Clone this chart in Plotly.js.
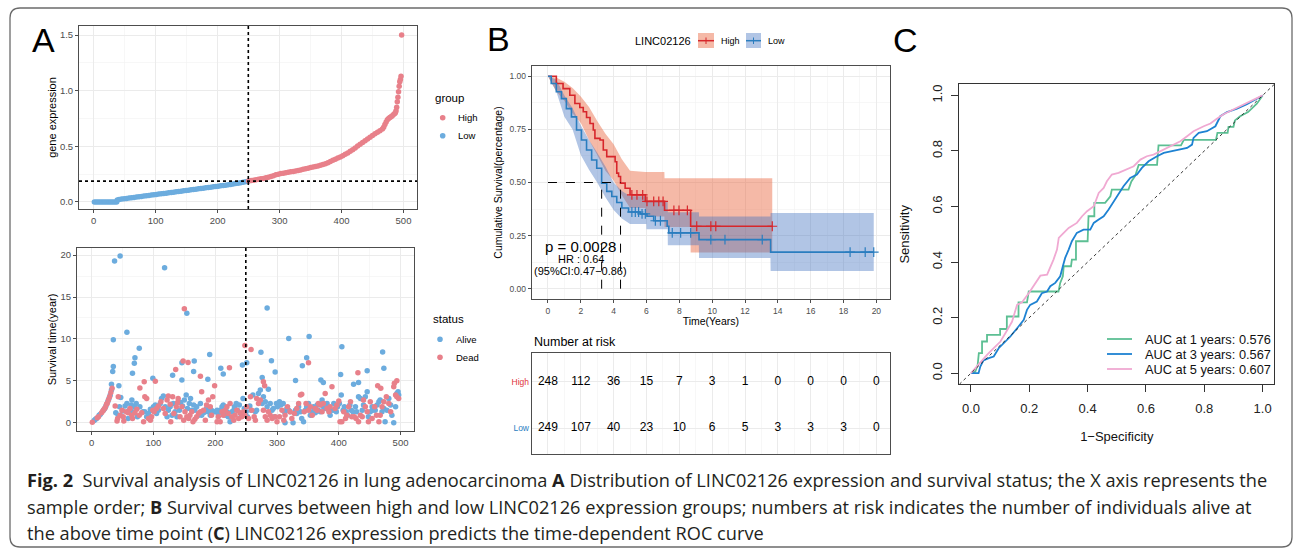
<!DOCTYPE html>
<html><head><meta charset="utf-8">
<script src="https://cdn.plot.ly/plotly-3.0.1.min.js"></script>
<style>html,body{margin:0;padding:0;background:#fff}</style>
</head><body><div id="chart" style="width:1295px;height:550px"></div>
<script>
// ---------------- DATA ----------------
// Panel A (top): gene expression by sample order
const lowIdx = [1,4,7,10,13,16,19,22,25,28,31,34,37,38,41,45,49,53,57,61,65,69,73,77,81,85,89,93,97,101,105,109,113,117,121,125,129,133,137,141,145,149,153,157,161,165,169,173,177,181,185,189,193,197,201,205,209,213,217,221,225,229,233,237,241,245,249];
const lowVal = [0,0,0,0,0,0,0,0,0,0,0,0,0,0.018,0.022,0.026,0.029,0.032,0.035,0.038,0.041,0.044,0.047,0.050,0.053,0.056,0.059,0.062,0.065,0.068,0.071,0.073,0.076,0.079,0.082,0.085,0.088,0.091,0.094,0.097,0.100,0.103,0.106,0.109,0.112,0.115,0.118,0.121,0.124,0.127,0.130,0.133,0.136,0.139,0.142,0.145,0.148,0.151,0.154,0.157,0.161,0.165,0.169,0.173,0.177,0.181,0.186];
const highIdx = [250,254,258,262,266,270,274,278,282,286,290,294,298,302,306,310,314,318,322,326,330,334,338,342,346,350,354,358,362,366,370,374,378,382,386,390,394,398,402,406,410,414,418,422,426,430,434,438,442,446,450,454,458,462,466,468,470,472,474,476,478,480,482,484,486,487,488,489,490,491,492,493,494,495,496,497];
const highVal = [0.188,0.192,0.196,0.200,0.204,0.208,0.212,0.217,0.222,0.228,0.236,0.244,0.250,0.255,0.259,0.263,0.267,0.271,0.275,0.279,0.283,0.288,0.293,0.298,0.304,0.310,0.314,0.318,0.323,0.329,0.336,0.344,0.353,0.363,0.374,0.385,0.395,0.405,0.416,0.428,0.441,0.455,0.470,0.486,0.502,0.518,0.534,0.550,0.566,0.582,0.597,0.612,0.626,0.640,0.656,0.672,0.695,0.718,0.738,0.750,0.758,0.766,0.775,0.785,0.795,0.805,0.820,0.850,0.900,0.940,0.990,1.040,1.080,1.100,1.130,1.500];
const cutIdx = 249.5;
const cutExpr = 0.187;

// Panel A (bottom): survival time by sample order
const aliveIdx = [4,6,8,12,14,19,21,23,26,28,30,32,
 37,46,118,35,35,34,32,57,77,70,69,66,44,47,99,154,166,146,191,165,146,131,188,209,213,244,251,284,274,291,297,276,319,352,348,341,330,371,375,405,403,446,471,473,424,432,
 39,43,45,50,54,57,59,61,64,65,66,
 69,72,74,78,83,86,89,92,95,97,100,
 103,105,108,111,113,116,119,122,124,127,130,132,
 135,138,142,144,147,150,153,155,158,160,162,165,
 167,170,173,176,178,181,184,186,189,192,194,197,
 200,203,205,208,211,213,216,219,221,224,227,230,
 231,234,236,239,241,245,247,250,252,256,258,261,
 265,267,270,273,276,278,281,284,286,289,292,294,
 296,299,301,304,306,310,312,313,316,319,321,326,
 330,332,335,338,340,343,346,348,351,354,357,359,
 362,365,367,370,373,375,378,381,384,386,389,392,
 393,396,398,401,404,407,409,412,414,418,420,423,
 427,429,432,435,438,440,443,446,448,451,454,455,
 459,462,465,467,470,473,475,478,481,484,486,489,492,494,496,497];
const aliveTime = [0.25,0.4,0.5,0.9,1.0,1.5,1.7,2.0,2.5,2.9,3.3,3.9,
 19.3,19.9,18.5,9.9,6.7,6.1,4.6,10.8,8.9,7.75,7.1,5.9,4.4,3.0,5.3,13.05,7.35,7.15,8.15,6.1,5.1,5.65,5.2,6.5,5.8,6.9,7.15,13.7,8.4,7.4,6.05,5.4,10.05,10.3,7.75,6.8,5.05,5.1,4.8,9.05,5.75,6.2,8.45,6.5,4.6,4.8,
 1.2,0.9,1.9,1.4,2.0,2.3,0.5,1.5,2.1,2.7,1.3,
 1.9,2.3,0.7,1.9,1.3,1.3,0.7,1.1,1.6,1.5,1.9,
 2.1,1.1,1.5,2.3,2.9,3.2,1.9,0.7,1.5,1.9,0.9,2.3,
 1.3,0.7,1.5,2.4,2.0,2.7,3.3,1.7,2.3,2.9,1.5,2.1,
 1.5,1.9,0.9,2.3,0.9,1.2,1.3,1.7,1.3,0.9,1.5,1.3,
 1.3,1.5,1.1,1.5,1.9,2.1,0.9,1.3,0.7,0.1,1.3,1.5,
 1.9,2.3,1.5,2.1,1.1,2.9,1.7,1.3,0.7,2.0,1.5,3.3,
 1.3,1.5,3.5,3.9,2.3,3.1,2.5,1.9,4.0,2.3,1.5,1.7,
 0.7,2.3,1.9,2.5,2.1,2.3,1.3,0.0,1.7,1.5,1.3,0.0,
 1.5,1.1,1.9,1.3,0.5,0.1,1.5,1.9,2.3,0.9,1.3,1.9,
 1.2,2.1,1.5,1.3,2.7,1.9,1.7,2.3,1.5,0.9,1.5,2.3,
 1.5,1.3,1.9,2.3,3.3,1.5,1.9,1.3,0.9,2.1,1.5,1.3,
 1.9,1.3,3.1,2.9,1.5,2.1,3.1,3.7,0.7,1.3,1.9,1.5,
 1.5,2.1,2.5,2.7,1.3,1.7,0.1,1.5,2.9,2.1,0.9,0.0,1.9,3.5,3.7,3.3];
const deadIdx = [1,9,11,16,18,20,22,24,25,27,29,31,33,
 150,148,156,136,223,248,258,278,280,351,431,78,85,103,199,176,463,468,494,490,
 38,41,42,43,46,49,51,52,56,59,62,65,66,
 70,73,77,81,84,86,89,92,95,97,99,
 101,105,108,112,116,119,122,124,127,128,131,
 133,137,139,140,143,146,149,151,154,157,159,162,164,
 167,170,173,176,178,181,184,186,189,192,194,196,
 203,205,208,211,213,216,219,221,224,227,230,
 232,235,238,240,243,246,248,251,254,257,259,
 263,265,267,270,273,278,281,284,286,289,292,
 297,300,304,308,311,313,317,321,324,
 328,332,335,338,340,344,347,351,354,357,
 362,365,367,370,373,375,378,381,384,386,389,
 394,397,400,402,405,408,411,413,416,419,421,
 425,428,432,435,438,440,443,446,448,451,454,
 458,461,465,467,470,473,477,481,484,489,492,494,497];
const deadTime = [0.05,0.6,0.7,1.2,1.4,1.6,1.8,2.2,2.3,2.7,3.1,3.6,4.1,
 13.6,7.35,7.2,6.35,6.55,9.2,8.75,4.9,4.4,7.15,5.95,4.15,4.9,4.95,4.4,5.55,4.4,4.1,5.0,4.7,
 2.0,0.2,0.5,3.1,0.9,1.5,0.7,0.2,1.3,1.2,1.7,0.9,0.5,
 1.2,1.6,0.9,1.2,0.1,3.1,2.9,0.5,0.3,0.7,1.5,
 1.3,1.7,2.0,2.5,1.7,1.1,2.7,3.2,2.2,0.1,3.1,
 1.1,1.9,2.4,2.9,0.7,1.9,0.3,1.3,0.7,0.5,0.9,1.3,0.1,
 0.4,0.7,1.1,1.3,3.7,1.5,0.3,2.1,2.7,1.9,0.9,3.1,
 0.1,0.7,0.1,1.3,0.9,1.5,1.9,1.1,2.3,0.7,0.3,
 0.9,1.5,0.5,1.2,0.7,1.3,0.9,1.9,0.5,3.1,1.5,
 0.7,0.3,2.9,2.3,2.7,1.5,0.7,0.3,1.3,0.9,0.5,
 0.7,0.1,0.7,1.5,0.3,0.9,1.9,1.3,0.5,
 1.1,1.7,2.3,3.3,3.4,1.3,2.3,1.5,1.9,0.9,
 1.7,1.5,2.3,2.1,1.3,2.3,3.5,1.7,1.3,1.9,4.3,
 1.7,2.1,2.6,0.1,0.1,1.3,0.5,0.9,1.9,2.5,0.7,
 0.7,0.5,0.1,0.9,0.7,2.7,1.9,1.3,0.1,2.5,0.5,
 1.9,0.9,0.1,0.9,1.9,2.5,3.1,2.3,1.3,4.3,3.3,3.1,2.9];

// Panel B: Kaplan-Meier
const highT = [0,0.51,0.92,1.33,1.64,1.94,2.15,2.35,2.56,2.76,2.86,3.17,3.37,3.58,4.09,4.19,4.30,4.42,4.70,5.00,5.93,7.10,8.69,13.66];
const highS = [1,0.966,0.942,0.911,0.872,0.853,0.833,0.806,0.778,0.747,0.708,0.700,0.653,0.622,0.598,0.544,0.528,0.497,0.473,0.442,0.411,0.369,0.294,0.294];
const lowT = [0,0.20,0.51,0.82,1.12,1.43,1.74,2.04,2.35,2.66,2.97,3.27,3.58,3.89,4.19,4.50,4.91,5.62,6.03,6.44,7.26,7.36,9.20,13.56,19.84];
const lowS = [1,0.966,0.927,0.895,0.848,0.809,0.747,0.700,0.653,0.606,0.567,0.497,0.458,0.434,0.406,0.380,0.361,0.352,0.341,0.320,0.294,0.263,0.231,0.172,0.172];
const highCiT = [0,0.5,1,1.5,2,2.5,3,3.5,4,4.5,5,5.92,5.93,7.09,7.10,8.68,8.69,13.66];
const highCiU = [1,0.995,0.975,0.945,0.905,0.855,0.79,0.73,0.68,0.61,0.555,0.55,0.55,0.55,0.52,0.52,0.52,0.52];
const highCiL = [1,0.93,0.885,0.825,0.78,0.70,0.63,0.555,0.51,0.44,0.38,0.38,0.34,0.34,0.29,0.29,0.17,0.17];
const lowCiT = [0,0.5,1,1.5,2,2.5,3,3.5,4,4.5,5,5.99,6.0,7.29,7.3,9.19,9.2,13.55,13.56,19.84];
const lowCiU = [1,0.985,0.91,0.85,0.77,0.70,0.64,0.575,0.50,0.46,0.435,0.435,0.41,0.41,0.36,0.36,0.34,0.34,0.356,0.356];
const lowCiL = [1,0.93,0.81,0.75,0.63,0.56,0.50,0.43,0.37,0.33,0.305,0.305,0.28,0.28,0.205,0.205,0.145,0.145,0.083,0.083];
const highCensT = [5.11,5.42,5.77,6.03,6.44,6.75,7.01,7.67,7.98,8.49,9.06,9.92,10.22,13.66];
const highCensS = [0.442,0.442,0.442,0.411,0.411,0.411,0.411,0.369,0.369,0.369,0.294,0.294,0.294,0.294];
const lowCensT = [5.11,5.32,5.52,5.73,5.93,6.54,6.85,7.57,8.08,8.69,9.92,10.78,13.05,18.40,19.32,19.84];
const lowCensS = [0.361,0.361,0.361,0.352,0.352,0.320,0.320,0.263,0.263,0.263,0.231,0.231,0.231,0.172,0.172,0.172];
const medians = [3.27, 4.42];
const riskT = [0,2,4,6,8,10,12,14,16,18,20];
const riskHigh = [248,112,36,15,7,3,1,0,0,0,0];
const riskLow = [249,107,40,23,10,6,5,3,3,3,0];
const pText = ['p = 0.0028','HR : 0.64','(95%CI:0.47\u22120.86)'];

// Panel C: time-dependent ROC
const roc1X = [0,0.015,0.023,0.027,0.038,0.038,0.055,0.055,0.10,0.10,0.123,0.123,0.163,0.163,0.192,0.198,0.30,0.306,0.315,0.318,0.343,0.346,0.36,0.36,0.40,0.403,0.423,0.423,0.46,0.478,0.483,0.54,0.55,0.563,0.575,0.638,0.643,0.72,0.73,0.84,0.845,0.88,0.883,0.90,0.905,0.923,0.95,0.98,1];
const roc1Y = [0,0.006,0.03,0.072,0.072,0.114,0.114,0.138,0.138,0.159,0.159,0.204,0.204,0.255,0.255,0.294,0.294,0.325,0.349,0.385,0.385,0.409,0.409,0.475,0.475,0.565,0.565,0.613,0.613,0.637,0.661,0.661,0.69,0.71,0.75,0.75,0.82,0.82,0.84,0.84,0.865,0.865,0.887,0.887,0.91,0.925,0.94,0.97,1];
const roc3X = [0,0.007,0.026,0.032,0.043,0.061,0.078,0.095,0.118,0.135,0.163,0.181,0.192,0.203,0.226,0.243,0.261,0.272,0.289,0.306,0.315,0.323,0.335,0.346,0.363,0.386,0.409,0.421,0.438,0.455,0.472,0.483,0.501,0.523,0.546,0.569,0.586,0.609,0.638,0.661,0.689,0.718,0.741,0.758,0.763,0.781,0.809,0.838,0.855,0.878,0.912,0.946,1];
const roc3Y = [0,0,0,0.024,0.046,0.054,0.060,0.090,0.114,0.132,0.168,0.192,0.228,0.246,0.258,0.288,0.294,0.313,0.325,0.349,0.385,0.415,0.445,0.475,0.505,0.517,0.517,0.541,0.553,0.565,0.589,0.607,0.637,0.673,0.703,0.715,0.739,0.763,0.781,0.793,0.799,0.805,0.811,0.823,0.847,0.865,0.871,0.889,0.925,0.940,0.952,0.968,1];
const roc5X = [0,0.015,0.032,0.055,0.078,0.101,0.118,0.141,0.158,0.175,0.198,0.209,0.226,0.238,0.261,0.272,0.283,0.295,0.301,0.318,0.335,0.363,0.381,0.398,0.421,0.438,0.455,0.466,0.483,0.506,0.535,0.558,0.581,0.603,0.626,0.649,0.672,0.718,0.741,0.763,0.798,0.821,0.843,0.866,0.901,1];
const roc5Y = [0,0.018,0.042,0.066,0.090,0.114,0.144,0.186,0.246,0.255,0.288,0.306,0.331,0.351,0.355,0.379,0.409,0.445,0.487,0.505,0.523,0.541,0.565,0.583,0.601,0.649,0.667,0.691,0.715,0.721,0.733,0.745,0.769,0.781,0.787,0.799,0.811,0.835,0.853,0.871,0.889,0.899,0.916,0.932,0.950,1];
const rocLabels = ['AUC at 1 years: 0.576','AUC at 3 years: 0.567','AUC at 5 years: 0.607'];
const diagLine = [-0.04, 1.04];

// ---------------- STYLE / LAYOUT ----------------
const W = 1295, H = 550;
const X = p => p / W, Y = p => 1 - p / H;
const FONT = 'Liberation Sans, Arial, Helvetica, sans-serif';
const PINK = '#E8808A', BLUE = '#6CACDE';
const RED_L = '#D7262B', BLUE_L = '#2A7DBF';
const RED_F = 'rgba(232,100,60,0.45)', BLUE_F = 'rgba(60,110,190,0.40)';
const GREEN_R = '#5CBF93', BLUE_R = '#1E82D2', PINK_R = '#F0A9D2';

function gg(o) {
  return Object.assign({
    showline: true, mirror: true, linecolor: '#4D4D4D', linewidth: 1,
    ticks: 'outside', ticklen: 3, tickwidth: 1, tickcolor: '#4D4D4D',
    showgrid: true, gridcolor: '#EBEBEB', gridwidth: 1, zeroline: false,
    tickfont: {size: 9.5, color: '#4D4D4D', family: FONT}, fixedrange: true
  }, o);
}
function rb(o) {
  return Object.assign({
    showline: true, mirror: true, linecolor: '#333', linewidth: 1,
    ticks: 'outside', ticklen: 7, tickwidth: 1, tickcolor: '#333',
    showgrid: false, zeroline: false, dtick: 0.2, tick0: 0, tickformat: '.1f',
    tickfont: {size: 13, color: '#222', family: FONT}, fixedrange: true,
    range: [-0.04, 1.04]
  }, o);
}
const minorG = (d) => ({dtick: d, showgrid: true, gridcolor: '#F1F1F1', gridwidth: 0.6, ticks: ''});

const traces = [
  {type:'scatter', mode:'markers', x: lowIdx, y: lowVal, xaxis:'x', yaxis:'y', name:'Low', marker:{color: BLUE, size:5.5}},
  {type:'scatter', mode:'markers', x: highIdx, y: highVal, xaxis:'x', yaxis:'y', name:'High', marker:{color: PINK, size:5.5}},
  {type:'scatter', mode:'markers', x: aliveIdx, y: aliveTime, xaxis:'x2', yaxis:'y2', name:'Alive', marker:{color: BLUE, size:5.5}},
  {type:'scatter', mode:'markers', x: deadIdx, y: deadTime, xaxis:'x2', yaxis:'y2', name:'Dead', marker:{color: PINK, size:5.5}},
  {type:'scatter', mode:'lines', x: highCiT, y: highCiL, xaxis:'x3', yaxis:'y3', line:{width:0}, hoverinfo:'skip'},
  {type:'scatter', mode:'lines', x: highCiT, y: highCiU, xaxis:'x3', yaxis:'y3', line:{width:0}, fill:'tonexty', fillcolor: RED_F, hoverinfo:'skip'},
  {type:'scatter', mode:'lines', x: lowCiT, y: lowCiL, xaxis:'x3', yaxis:'y3', line:{width:0}, hoverinfo:'skip'},
  {type:'scatter', mode:'lines', x: lowCiT, y: lowCiU, xaxis:'x3', yaxis:'y3', line:{width:0}, fill:'tonexty', fillcolor: BLUE_F, hoverinfo:'skip'},
  {type:'scatter', mode:'lines', x: highT, y: highS, xaxis:'x3', yaxis:'y3', name:'High', line:{color: RED_L, width:1.6, shape:'hv'}},
  {type:'scatter', mode:'lines', x: lowT, y: lowS, xaxis:'x3', yaxis:'y3', name:'Low', line:{color: BLUE_L, width:1.6, shape:'hv'}},
  {type:'scatter', mode:'markers', x: highCensT, y: highCensS, xaxis:'x3', yaxis:'y3', marker:{symbol:'cross-thin', size:7, line:{color: RED_L, width:1.2}}},
  {type:'scatter', mode:'markers', x: lowCensT, y: lowCensS, xaxis:'x3', yaxis:'y3', marker:{symbol:'cross-thin', size:7, line:{color: BLUE_L, width:1.2}}},
  {type:'scatter', mode:'text', x: riskT, y: riskT.map(() => 'High'), text: riskHigh.map(String), xaxis:'x4', yaxis:'y4', textfont:{size:12, color:'#000', family: FONT}},
  {type:'scatter', mode:'text', x: riskT, y: riskT.map(() => 'Low'), text: riskLow.map(String), xaxis:'x4', yaxis:'y4', textfont:{size:12, color:'#000', family: FONT}},
  {type:'scatter', mode:'lines', x: roc1X, y: roc1Y, xaxis:'x5', yaxis:'y5', name: rocLabels[0], line:{color: GREEN_R, width:1.8}},
  {type:'scatter', mode:'lines', x: roc3X, y: roc3Y, xaxis:'x5', yaxis:'y5', name: rocLabels[1], line:{color: BLUE_R, width:1.8}},
  {type:'scatter', mode:'lines', x: roc5X, y: roc5Y, xaxis:'x5', yaxis:'y5', name: rocLabels[2], line:{color: PINK_R, width:1.8}}
];

const layout = {
  width: W, height: H, margin: {l:0, r:0, t:0, b:0},
  paper_bgcolor: '#fff', plot_bgcolor: '#fff', showlegend: false,
  font: {family: FONT, color: '#000'},
  xaxis: gg({domain:[X(79), X(417)], range:[-23.8, 521.8], anchor:'y', tick0:0, dtick:100, minor: minorG(50)}),
  yaxis: gg({domain:[Y(209), Y(26)], range:[-0.063, 1.581], anchor:'x', tick0:0, dtick:0.5, tickformat:'.1f', minor: minorG(0.25),
    title:{text:'gene expression', font:{size:11, color:'#000'}, standoff:1}, automargin:true}),
  xaxis2: gg({domain:[X(77), X(414)], range:[-23.8, 521.8], anchor:'y2', tick0:0, dtick:100, minor: minorG(50)}),
  yaxis2: gg({domain:[Y(431), Y(248)], range:[-0.99, 20.85], anchor:'x2', tick0:0, dtick:5, minor: minorG(2.5),
    title:{text:'Survival time(year)', font:{size:11, color:'#000'}, standoff:1}, automargin:true}),
  xaxis3: gg({domain:[X(531.7), X(890)], range:[-0.99, 20.83], anchor:'y3', tick0:0, dtick:2, minor: minorG(1),
    tickfont:{size:8.5, color:'#4D4D4D', family:FONT},
    title:{text:'Time(Years)', font:{size:10.5, color:'#000'}, standoff:1}, automargin:true}),
  yaxis3: gg({domain:[Y(299.3), Y(65.7)], range:[-0.05, 1.05], anchor:'x3', tick0:0, dtick:0.25, tickformat:'.2f', minor: minorG(0.125),
    tickfont:{size:8.5, color:'#4D4D4D', family:FONT},
    title:{text:'Cumulative Survival(percentage)', font:{size:10.5, color:'#000'}, standoff:4}, automargin:true}),
  xaxis4: gg({domain:[X(531.7), X(890)], range:[-0.99, 20.83], anchor:'y4', tick0:0, dtick:2, minor: minorG(1), showticklabels:false, ticks:''}),
  yaxis4: gg({domain:[Y(454.3), Y(353.3)], anchor:'x4', type:'category', categoryorder:'array', categoryarray:['Low','High'],
    range:[-0.56, 1.61], ticks:'', tickvals:['Low','High'],
    ticktext:['<span style="color:' + BLUE_L + '">Low</span>', '<span style="color:#E0343B">High</span>'],
    tickfont:{size:8.5, family:FONT}}),
  xaxis5: rb({domain:[X(959.3), X(1274.3)], anchor:'y5', ticklabelstandoff:5,
    title:{text:'1\u2212Specificity', font:{size:13, color:'#111'}, standoff:16}, automargin:true}),
  yaxis5: rb({domain:[Y(384.3), Y(84.3)], anchor:'x5', tickangle:-90, ticklabelstandoff:4,
    title:{text:'Sensitivity', font:{size:13, color:'#111'}, standoff:17}, automargin:true}),
  shapes: [], annotations: []
};

const S = layout.shapes, A = layout.annotations;
// reference lines
S.push({type:'line', xref:'x', yref:'y domain', x0:cutIdx, x1:cutIdx, y0:0, y1:1, line:{color:'#000', width:1.6, dash:'dot'}});
S.push({type:'line', xref:'x domain', yref:'y', x0:0, x1:1, y0:cutExpr, y1:cutExpr, line:{color:'#000', width:1.6, dash:'dot'}});
S.push({type:'line', xref:'x2', yref:'y2 domain', x0:cutIdx, x1:cutIdx, y0:0, y1:1, line:{color:'#000', width:1.6, dash:'dot'}});
S.push({type:'line', xref:'x3', yref:'y3', x0:0, x1:Math.max(...medians), y0:0.5, y1:0.5, line:{color:'#000', width:1, dash:'dash'}});
medians.forEach(m => S.push({type:'line', xref:'x3', yref:'y3', x0:m, x1:m, y0:0, y1:0.5, line:{color:'#000', width:1, dash:'dash'}}));
S.push({type:'line', xref:'x5', yref:'y5', x0:diagLine[0], x1:diagLine[1], y0:diagLine[0], y1:diagLine[1], line:{color:'#222', width:0.9, dash:'dot'}});

// figure frame (rounded rectangle)
(function(){
  const l=10, t=8, r=1292, b=547, c=10;
  const p = (x,y) => X(x) + ',' + Y(y);
  S.push({type:'path', xref:'paper', yref:'paper', line:{color:'#6b6b6b', width:1.3},
    path: 'M' + p(l+c,t) + ' L' + p(r-c,t) + ' Q' + p(r,t) + ' ' + p(r,t+c) + ' L' + p(r,b-c) + ' Q' + p(r,b) + ' ' + p(r-c,b) +
          ' L' + p(l+c,b) + ' Q' + p(l,b) + ' ' + p(l,b-c) + ' L' + p(l,t+c) + ' Q' + p(l,t) + ' ' + p(l+c,t) + ' Z'});
})();

function txt(text, x, y, size, opts) {
  A.push(Object.assign({xref:'paper', yref:'paper', x:X(x), y:Y(y), text:text, showarrow:false,
    xanchor:'left', yanchor:'middle', font:{size:size, family:FONT, color:'#000'}}, opts || {}));
}
function dot(x, y, color) {
  S.push({type:'circle', xref:'paper', yref:'paper', xsizemode:'pixel', ysizemode:'pixel',
    xanchor:X(x), yanchor:Y(y), x0:-2.8, x1:2.8, y0:-2.8, y1:2.8, fillcolor:color, line:{width:0}});
}

// panel letters
txt('A', 30, 40, 34);
txt('B', 485, 39, 34);
txt('C', 891, 40, 34);

// legend: group
txt('group', 433, 98, 11.5);
dot(442.7, 117.7, PINK); txt('High', 456, 117.7, 9.5);
dot(442.7, 135.7, BLUE); txt('Low', 456, 135.7, 9.5);
// legend: status
txt('status', 431, 319.3, 11.5);
dot(440, 339.3, BLUE); txt('Alive', 454, 339.3, 9.5);
dot(440, 357.3, PINK); txt('Dead', 454, 357.3, 9.5);

// legend: KM
txt('LINC02126', 693, 40.7, 11, {xanchor:'right'});
[[698, 714, RED_F, RED_L, 'High', 719], [746, 761, BLUE_F, BLUE_L, 'Low', 766.5]].forEach(k => {
  S.push({type:'rect', xref:'paper', yref:'paper', x0:X(k[0]), x1:X(k[1]), y0:Y(48), y1:Y(33), fillcolor:k[2], line:{width:0}});
  S.push({type:'line', xref:'paper', yref:'paper', x0:X(k[0]), x1:X(k[1]), y0:Y(40.7), y1:Y(40.7), line:{color:k[3], width:1.5}});
  S.push({type:'line', xref:'paper', yref:'paper', x0:X((k[0]+k[1])/2), x1:X((k[0]+k[1])/2), y0:Y(37.5), y1:Y(44), line:{color:k[3], width:1}});
  txt(k[4], k[5], 40.7, 9);
});

// p-value block (data coords of KM panel)
A.push({xref:'x3', yref:'y3', x:2.0, y:0.197, text:pText[0], showarrow:false, xanchor:'center', yanchor:'middle', font:{size:15, family:FONT, color:'#000'}});
A.push({xref:'x3', yref:'y3', x:2.0, y:0.141, text:pText[1], showarrow:false, xanchor:'center', yanchor:'middle', font:{size:11, family:FONT, color:'#000'}});
A.push({xref:'x3', yref:'y3', x:2.0, y:0.083, text:pText[2], showarrow:false, xanchor:'center', yanchor:'middle', font:{size:11, family:FONT, color:'#000'}});

// risk table title
txt('Number at risk', 531.5, 341.7, 12.5);

// ROC legend
[[GREEN_R, 339], [BLUE_R, 354], [PINK_R, 369]].forEach((k, i) => {
  S.push({type:'line', xref:'paper', yref:'paper', x0:X(1107), x1:X(1132), y0:Y(k[1]), y1:Y(k[1]), line:{color:k[0], width:1.8}});
  txt(rocLabels[i], 1143, k[1], 12.8, {font:{size:12.8, family:FONT, color:'#111'}});
});

// caption
const CAP = {size:18.2, family:'Open Sans, Noto Sans, sans-serif', color:'#231F20'};
txt('<b>Fig. 2</b>\u00a0\u00a0Survival analysis of LINC02126 in lung adenocarcinoma <b>A</b> Distribution of LINC02126 expression and survival status; the X axis represents the', 25, 479.5, 18.2, {font:CAP});
txt('sample order; <b>B</b> Survival curves between high and low LINC02126 expression groups; numbers at risk indicates the number of individuals alive at', 25, 506.5, 18.2, {font:CAP});
txt('the above time point (<b>C</b>) LINC02126 expression predicts the time-dependent ROC curve', 25, 533, 18.2, {font:CAP});

Plotly.newPlot('chart', traces, layout, {staticPlot:true, displayModeBar:false});
</script></body></html>
